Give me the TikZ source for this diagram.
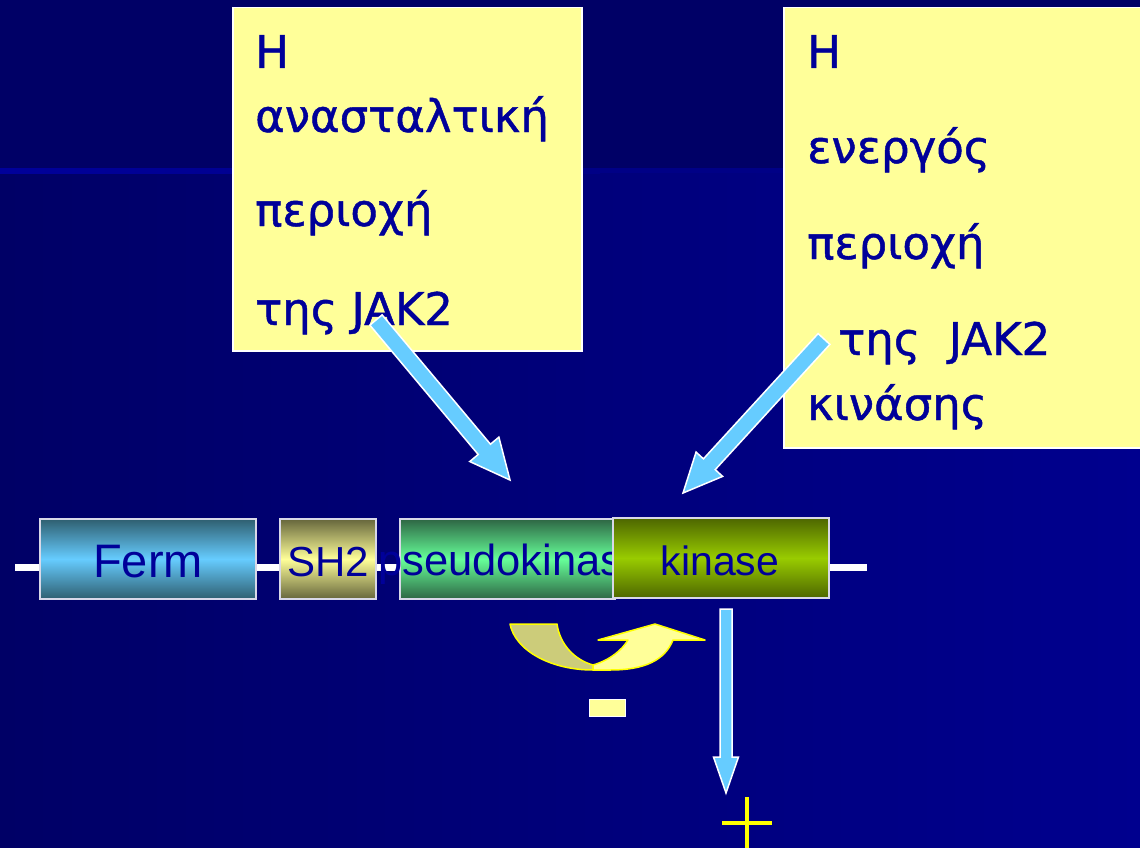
\documentclass[tikz,border=0pt]{standalone}
\usepackage{fontspec}
\newfontfamily\grk[FakeBold=1]{DejaVu Sans}
\newfontfamily\arl{Liberation Sans}
\usetikzlibrary{calc}
\definecolor{bgdark}{HTML}{000066}
\definecolor{bgright}{HTML}{00008E}
\definecolor{bgmid}{HTML}{000086}
\definecolor{stripe}{HTML}{00009A}
\definecolor{txtblue}{HTML}{000099}
\definecolor{noteyellow}{HTML}{FFFF99}
\definecolor{arrowblue}{HTML}{66CCFF}
\definecolor{edgegray}{HTML}{D8D8E8}
\definecolor{fermdark}{HTML}{2F5F70}
\definecolor{fermlight}{HTML}{66CCFF}
\definecolor{shdark}{HTML}{66663C}
\definecolor{shlight}{HTML}{FFFF99}
\definecolor{pkdark}{HTML}{2E6644}
\definecolor{pklight}{HTML}{66FF99}
\definecolor{kdark}{HTML}{4D6600}
\definecolor{klight}{HTML}{99CC00}
\definecolor{khaki}{HTML}{CCCC7A}
\definecolor{brightyellow}{HTML}{FFFF00}
\newcommand{\blkarrow}[5]{%
  \coordinate (#1-hb) at ($(#2)!#5!(#1)$);
  \draw[blk] ($(#1)!#3!90:(#2)$) -- ($(#1-hb)!#3!90:(#2)$) -- ($(#1-hb)!#4!90:(#2)$) -- (#2)
    -- ($(#1-hb)!#4!-90:(#2)$) -- ($(#1-hb)!#3!-90:(#2)$) -- ($(#1)!#3!-90:(#2)$) -- cycle;
}
\begin{document}
\begin{tikzpicture}[x=1pt,y=-1pt,
  dom/.style={draw=edgegray, line width=1.2pt, inner sep=0pt, minimum height=80pt},
  domtxt/.style={text=txtblue, inner sep=0pt, anchor=base},
  note/.style={fill=noteyellow, draw=white, line width=1.5pt, inner sep=0pt, anchor=north west},
  notetxt/.style={anchor=base west, inner sep=0pt, text=txtblue, font=\grk\fontsize{45}{54}\selectfont},
  blk/.style={fill=arrowblue, draw=white, line width=1.5pt, line join=miter},
  curveback/.style={fill=khaki, draw=brightyellow, line width=1.5pt, line join=round},
  curvefront/.style={fill=noteyellow, draw=brightyellow, line width=1.5pt, line join=round},
  backbone/.style={draw=white, line width=7pt}]
\useasboundingbox (0,0) rectangle (1140,848);
% background
\fill[bgdark] (0,0) rectangle (1140,168);
\shade[left color=bgdark, right color=bgright] (0,168) rectangle (1140,848);
\shade[left color=stripe, right color=bgmid] (0,168) rectangle (600,173);
\fill[bgmid] (600,168) rectangle (1140,173);
% backbone line
\coordinate (bbl) at (15,567);
\coordinate (bbr) at (867,567);
\draw[backbone] (bbl) -- (bbr);
% domains
\node[dom, minimum width=216pt, top color=fermdark, bottom color=fermdark, middle color=fermlight] (ferm) at (148,559) {};
\node[domtxt, font=\arl\fontsize{47}{47}\selectfont] at (148,577) {Ferm};
\node[dom, minimum width=96pt, top color=shdark, bottom color=shdark, middle color=shlight] (sh2) at (328,559) {};
\node[domtxt, font=\arl\fontsize{42}{42}\selectfont] at (328,576) {SH2};
\node[dom, minimum width=215pt, top color=pkdark, bottom color=pkdark, middle color=pklight] (pk) at (507.5,559) {};
\node[domtxt, anchor=base west, font=\arl\fontsize{43.5}{44}\selectfont] (pklabel) at (378,575) {pseudokinase};
\node[dom, minimum width=216pt, top color=kdark, bottom color=kdark, middle color=klight] (kin) at (721,558) {};
\node[domtxt, font=\arl\fontsize{41}{41}\selectfont] at (720,575) {kinase};
% notes
\node[note, minimum width=349pt, minimum height=343pt] (inhib) at (232,7) {};
\node[notetxt] at (255,68) {Η};
\node[notetxt] at (255,132) {ανασταλτική};
\node[notetxt] at (255,226) {περιοχή};
\node[notetxt] at (255,325) {της JAK2};
\node[note, minimum width=362pt, minimum height=440pt] (activ) at (783,7) {};
\node[notetxt] at (807,68) {Η};
\node[notetxt] at (807,163) {ενεργός};
\node[notetxt] at (807,259) {περιοχή};
\node[notetxt] at (838,355) {της~~JAK2};
\node[notetxt] at (807,420) {κινάσης};
% block arrows
\coordinate (a1s) at (376,320);
\coordinate (a1e) at (510,480);
\blkarrow{a1s}{a1e}{8pt}{19pt}{40pt}
\coordinate (a2s) at (824,339);
\coordinate (a2e) at (683,493);
\blkarrow{a2s}{a2e}{8pt}{18pt}{39pt}
\coordinate (a3s) at (726,609);
\coordinate (a3e) at (726,793);
\blkarrow{a3s}{a3e}{6pt}{12.5pt}{36pt}
% curved U-turn arrow
\draw[curveback] (510,624) -- (557,624) .. controls (560,645) and (575,660) .. (593,665)
  -- (593,670) .. controls (550,670) and (515,650) .. (510,624) -- cycle;
\draw[curvefront] (593,665) .. controls (610,660) and (622,650) .. (628,640) -- (598,640)
  -- (655,624) -- (705,640) -- (673,640) .. controls (665,660) and (645,670) .. (610,670)
  -- (593,670) -- cycle;
% minus and plus
\draw[fill=noteyellow, draw=white, line width=1pt] (589,699) rectangle (625,716);
\draw[brightyellow, line width=4pt] (722,823) -- (772,823);
\draw[brightyellow, line width=4pt] (747,797) -- (747,848);
\end{tikzpicture}
\end{document}
